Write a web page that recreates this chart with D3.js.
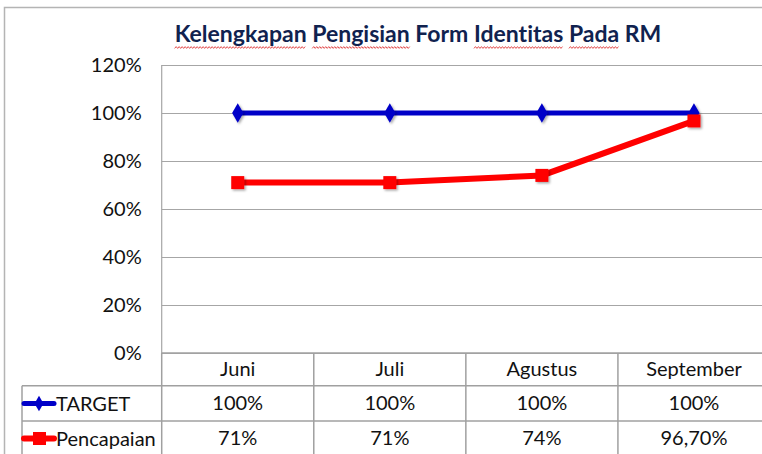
<!DOCTYPE html>
<html><head><meta charset="utf-8">
<script src="https://cdn.jsdelivr.net/npm/d3@7"></script>
<style>
html,body{margin:0;padding:0;background:#fff;}
svg{display:block;}
text{font-family:Lato,"Liberation Sans",sans-serif;font-variant-ligatures:none;}
</style></head>
<body>
<svg id="chart" width="762" height="454"></svg>
<script>
const categories = ["Juni", "Juli", "Agustus", "September"];
const targetValues = [1.00, 1.00, 1.00, 1.00];
const pencapaianValues = [0.71, 0.71, 0.74, 0.967];
const targetLabels = ["100%", "100%", "100%", "100%"];
const pencapaianLabels = ["71%", "71%", "74%", "96,70%"];
const yTicks = [0, 0.2, 0.4, 0.6, 0.8, 1.0, 1.2];
const seriesNames = ["TARGET", "Pencapaian"];
const titleWords = [["Kelengkapan", true], ["Pengisian", true], ["Form", false], ["Identitas", true], ["Pada", true], ["RM", false]];

const svg = d3.select("#chart");
const defs = svg.append("defs");
const f = defs.append("filter").attr("id","sh").attr("x","-50%").attr("y","-50%").attr("width","200%").attr("height","200%");
f.append("feDropShadow").attr("dx",1.5).attr("dy",1.5).attr("stdDeviation",1.2).attr("flood-color","#000").attr("flood-opacity",0.35);

const L = 161.7, R = 770, T = 65, B = 353;
const x = d3.scaleBand().domain(categories).range([L, R]);
const y = d3.scaleLinear().domain([0, 1.2]).range([B, T]);
const gridCol = "#a6a6a6";

// outer border
svg.append("rect").attr("x",4.5).attr("y",7.5).attr("width",800).attr("height",500)
  .attr("fill","none").attr("stroke","#b4b4b4").attr("stroke-width",1.5);

// title
const title = svg.append("text").attr("x",418).attr("y",42).attr("text-anchor","middle")
  .attr("font-size",23).attr("font-weight","bold").attr("fill","#10224f");
const spans = [];
titleWords.forEach((w,i)=>{
  spans.push([title.append("tspan").text(w[0]), w[1]]);
  if (i < titleWords.length-1) title.append("tspan").text(" ");
});
// spell-check style wavy underlines
const wave = svg.append("g");
spans.forEach(([ts, u])=>{
  if (!u) return;
  const n = ts.node();
  const x0 = n.getStartPositionOfChar(0).x;
  const w = n.getComputedTextLength();
  const pts = [];
  for (let xx = x0, k = 0; xx <= x0 + w; xx += 1.5, k++) pts.push([xx, 47.5 + (k % 2 ? -0.9 : 0.9)]);
  wave.append("path").attr("d", d3.line()(pts)).attr("fill","none").attr("stroke","#e03c3c").attr("stroke-width",0.9);
});

// gridlines
svg.append("g").selectAll("line").data(yTicks).join("line")
  .attr("x1",L).attr("x2",R).attr("y1",d=>Math.round(y(d))+0.5).attr("y2",d=>Math.round(y(d))+0.5)
  .attr("stroke",gridCol).attr("stroke-width",1.2);
svg.append("line").attr("x1",L).attr("x2",L).attr("y1",T).attr("y2",B)
  .attr("stroke",gridCol).attr("stroke-width",1.2);

// y axis labels
const yAxis = d3.axisLeft(y).tickValues(yTicks).tickFormat(d3.format(".0%")).tickSize(0).tickPadding(20);
const ya = svg.append("g").attr("transform",`translate(${L},0)`).call(yAxis);
ya.select(".domain").remove();
ya.selectAll("text").attr("font-family","Lato").attr("font-size",20).attr("fill","#111");

// lines
const line = d3.line().x((d,i)=>x(categories[i])+x.bandwidth()/2).y(d=>y(d));
svg.append("path").datum(targetValues).attr("d",line).attr("fill","none").attr("stroke","#0000c8").attr("stroke-width",5);
svg.append("path").datum(pencapaianValues).attr("d",line).attr("fill","none").attr("stroke","#ff0000").attr("stroke-width",6);

const diamond = d3.symbol().type(d3.symbolDiamond).size(110);
svg.append("g").selectAll("path").data(targetValues).join("path")
  .attr("d",diamond).attr("fill","#0000c8").attr("filter","url(#sh)")
  .attr("transform",(d,i)=>`translate(${x(categories[i])+x.bandwidth()/2},${y(d)})`);
svg.append("g").selectAll("rect").data(pencapaianValues).join("rect")
  .attr("x",(d,i)=>x(categories[i])+x.bandwidth()/2-6.5).attr("y",d=>y(d)-6.5)
  .attr("width",13).attr("height",13).attr("fill","#ff0000").attr("filter","url(#sh)");

// data table
const tg = svg.append("g");
const tblCol = "#a0a0a0";
[B, 385.7, 421].forEach((yy,i)=>{
  tg.append("line").attr("x1", i===0 ? L : 22).attr("x2",R).attr("y1",yy).attr("y2",yy).attr("stroke",tblCol).attr("stroke-width",1.5);
});
tg.append("line").attr("x1",22).attr("x2",22).attr("y1",385.7).attr("y2",460).attr("stroke",tblCol).attr("stroke-width",1.5);
categories.forEach(c=>{
  tg.append("line").attr("x1",x(c)).attr("x2",x(c)).attr("y1",B).attr("y2",460).attr("stroke",tblCol).attr("stroke-width",1.5);
});
tg.selectAll("text.cat").data(categories).join("text").attr("class","cat")
  .attr("x",d=>x(d)+x.bandwidth()/2).attr("y",376).attr("text-anchor","middle")
  .attr("font-size",20).attr("fill","#111").text(d=>d);
tg.selectAll("text.tv").data(targetLabels).join("text").attr("class","tv")
  .attr("x",(d,i)=>x(categories[i])+x.bandwidth()/2).attr("y",410).attr("text-anchor","middle")
  .attr("font-size",20).attr("fill","#111").text(d=>d);
tg.selectAll("text.pv").data(pencapaianLabels).join("text").attr("class","pv")
  .attr("x",(d,i)=>x(categories[i])+x.bandwidth()/2).attr("y",445).attr("text-anchor","middle")
  .attr("font-size",20).attr("fill","#111").text(d=>d);

// legend keys
const keyY = [403.5, 438.5];
const keyCol = ["#0000c8","#ff0000"];
seriesNames.forEach((n,i)=>{
  tg.append("line").attr("x1",24).attr("x2",54).attr("y1",keyY[i]).attr("y2",keyY[i])
    .attr("stroke",keyCol[i]).attr("stroke-width",i===0?5:6).attr("stroke-linecap","round");
  if (i===0) tg.append("path").attr("d",d3.symbol().type(d3.symbolDiamond).size(70)).attr("fill",keyCol[i])
    .attr("transform",`translate(39,${keyY[i]})`);
  else tg.append("rect").attr("x",33).attr("y",keyY[i]-6.5).attr("width",13).attr("height",13).attr("fill",keyCol[i]);
  tg.append("text").attr("x",56).attr("y",keyY[i]+7).attr("font-size",20).attr("fill","#111").text(n);
});
</script>
</body></html>
